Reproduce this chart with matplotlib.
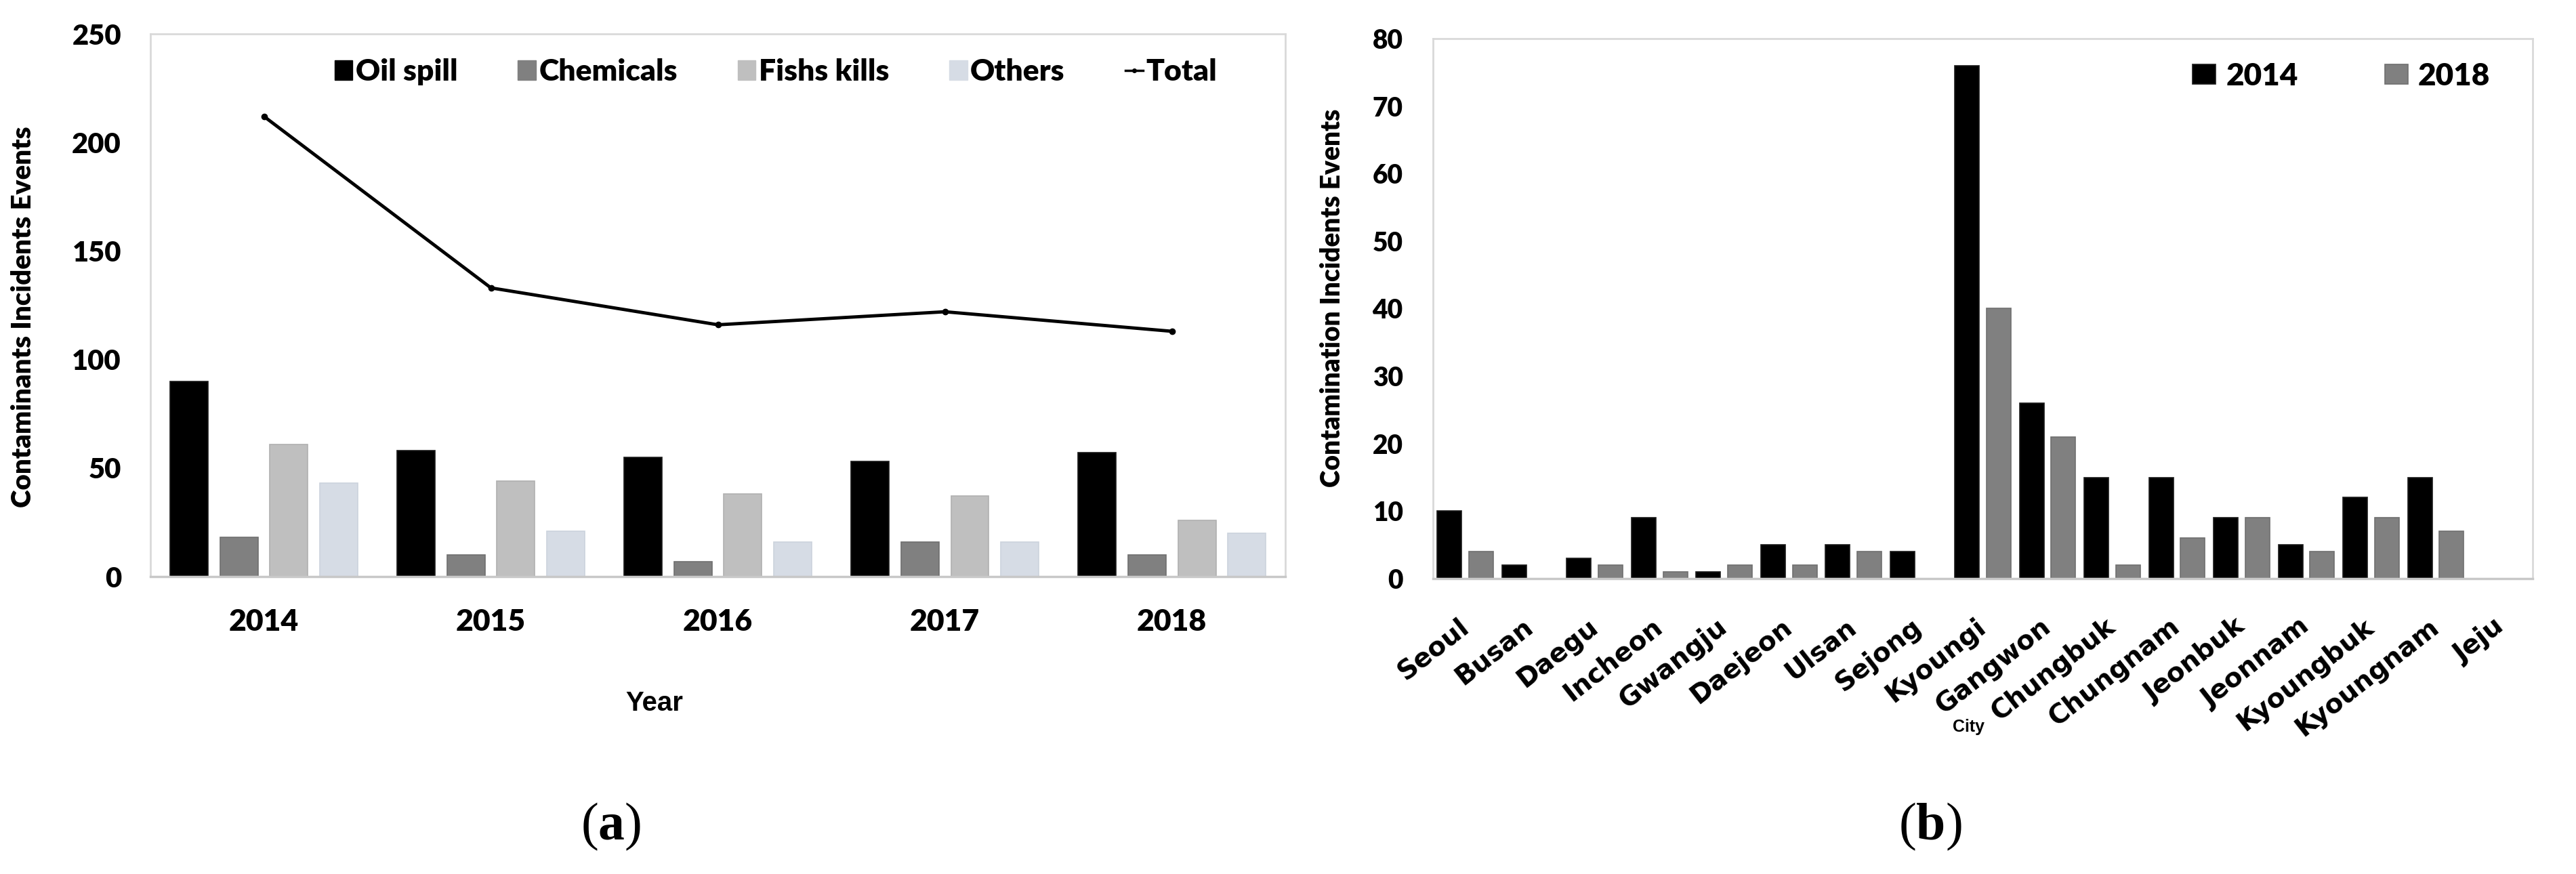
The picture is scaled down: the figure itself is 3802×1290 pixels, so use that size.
import numpy as np
import matplotlib
matplotlib.use("Agg")
import matplotlib.pyplot as plt
from matplotlib.lines import Line2D
from matplotlib.patches import Patch
import matplotlib.transforms as mtransforms

plt.rcParams['mathtext.fontset'] = 'custom'
plt.rcParams['mathtext.rm'] = 'Liberation Serif'
plt.rcParams['mathtext.bf'] = 'Liberation Serif:bold'

# panel (a) data
years = ['2014', '2015', '2016', '2017', '2018']
oil_spill = [90, 58, 55, 53, 57]
chemicals = [18, 10, 7, 16, 10]
fish_kills = [61, 44, 38, 37, 26]
others = [43, 21, 16, 16, 20]
total = [212, 133, 116, 122, 113]
series_a = ['Oil spill', 'Chemicals', 'Fishs kills', 'Others']

# panel (b) data
cities = ['Seoul', 'Busan', 'Daegu', 'Incheon', 'Gwangju', 'Daejeon', 'Ulsan',
          'Sejong', 'Kyoungi', 'Gangwon', 'Chungbuk', 'Chungnam', 'Jeonbuk',
          'Jeonnam', 'Kyoungbuk', 'Kyoungnam', 'Jeju']
y2014 = [10, 2, 3, 9, 1, 5, 5, 4, 76, 26, 15, 15, 9, 5, 12, 15, 0]
y2018 = [4, 0, 2, 1, 2, 2, 4, 0, 40, 21, 2, 6, 9, 4, 9, 7, 0]

cols_a = ['#000000', '#808080', '#bfbfbf', '#d6dce5']
edge_a = ['#1a1a1a', '#707070', '#b0b0b0', '#ccd3dd']

fig = plt.figure(figsize=(38.02, 12.90), dpi=100)
axA = fig.add_axes([0.0584, 0.3403, 0.4406, 0.6209])
axB = fig.add_axes([0.5563, 0.3380, 0.4269, 0.6178])

LATO = 'Lato'
WT = 'heavy'

def frame(ax):
    for s in ['top', 'left', 'right']:
        ax.spines[s].set_color('#d9d9d9')
        ax.spines[s].set_linewidth(2)
    ax.spines['bottom'].set_color('#c8c8c8')
    ax.spines['bottom'].set_linewidth(2.5)
    ax.tick_params(length=0)

# ---- (a)
x = np.arange(len(years))
w = 0.167
offs = [-0.33, -0.11, 0.11, 0.33]
vals = [oil_spill, chemicals, fish_kills, others]
for i in range(4):
    axA.bar(x + offs[i], vals[i], w, color=cols_a[i], edgecolor=edge_a[i],
            linewidth=1.2, label=series_a[i], zorder=2)
axA.plot(x, total, color='black', lw=3.5, marker='o', ms=6, zorder=3)
axA.set_xlim(-0.5, 4.5)
axA.set_ylim(0, 250)
axA.set_yticks(np.arange(0, 251, 50))
axA.set_xticks(x)
axA.set_xticklabels(years, fontsize=32, fontweight=WT, family=LATO)
for t in axA.get_yticklabels():
    t.set_fontsize(30); t.set_fontweight(WT); t.set_family(LATO)
axA.tick_params(axis='x', pad=34)
axA.tick_params(axis='y', pad=31)
frame(axA)
axA.set_ylabel('Contaminants Incidents Events', fontsize=29, fontweight=WT,
               family=LATO)
axA.yaxis.set_label_coords(-0.1012, 0.478)

handles = [Patch(facecolor=cols_a[i], edgecolor=cols_a[i]) for i in range(4)]
handles.append(Line2D([], [], color='black', lw=2.5, marker='o', ms=4))
axA.legend(handles, series_a + ['Total'], loc='center',
           bbox_to_anchor=(0.551, 0.930), ncol=5, frameon=False,
           prop={'family': LATO, 'weight': WT, 'size': 32},
           handlelength=0.6, handleheight=0.6, handletextpad=0.1,
           columnspacing=2.0, borderpad=0, borderaxespad=0)

fig.text(966 / 3802, 1 - 1038 / 1290, 'Year', ha='center', va='center',
         fontsize=29, fontweight='bold', family='Liberation Sans')
fig.text(902 / 3802, 1 - 1220 / 1290, r'($\mathbf{a}$)', ha='center', va='center',
         fontsize=56, family='Liberation Serif')

# ---- (b)
xb = np.arange(len(cities))
wb = 0.377
axB.bar(xb - 0.245, y2014, wb, color='#000000', edgecolor='#1a1a1a', lw=1.2,
        label='2014', zorder=2)
axB.bar(xb + 0.245, y2018, wb, color='#808080', edgecolor='#707070', lw=1.2,
        label='2018', zorder=2)
axB.set_xlim(-0.5, len(cities) - 0.5)
axB.set_ylim(0, 80)
axB.set_yticks(np.arange(0, 81, 10))
for t in axB.get_yticklabels():
    t.set_fontsize(28); t.set_fontweight(WT); t.set_family(LATO)
axB.set_xticks(xb)
axB.set_xticklabels(cities, rotation=38, ha='right', va='center',
                    rotation_mode='anchor', fontsize=28, fontweight='bold',
                    family='DejaVu Sans')
off = mtransforms.ScaledTranslation(0.25, 0, fig.dpi_scale_trans)
for t in axB.get_xticklabels():
    t.set_transform(t.get_transform() + off)
axB.tick_params(axis='x', pad=48)
axB.tick_params(axis='y', pad=32)
frame(axB)
axB.set_ylabel('Contamination Incidents Events', fontsize=28, fontweight=WT,
               family=LATO)
axB.yaxis.set_label_coords(-0.080, 0.52)

axB.legend(loc='center', bbox_to_anchor=(0.826, 0.931), ncol=2, frameon=False,
           prop={'family': LATO, 'weight': WT, 'size': 33},
           handlelength=0.74, handleheight=0.6, handletextpad=0.33,
           columnspacing=2.8, borderpad=0, borderaxespad=0)

fig.text(2905 / 3802, 1 - 1073 / 1290, 'City', ha='center', va='center',
         fontsize=18, fontweight='bold', family='Liberation Sans')
fig.text(2849 / 3802, 1 - 1220 / 1290, r'($\mathbf{b}$)', ha='center', va='center',
         fontsize=56, family='Liberation Serif')

fig.savefig('out.png', dpi=100, facecolor='white')
